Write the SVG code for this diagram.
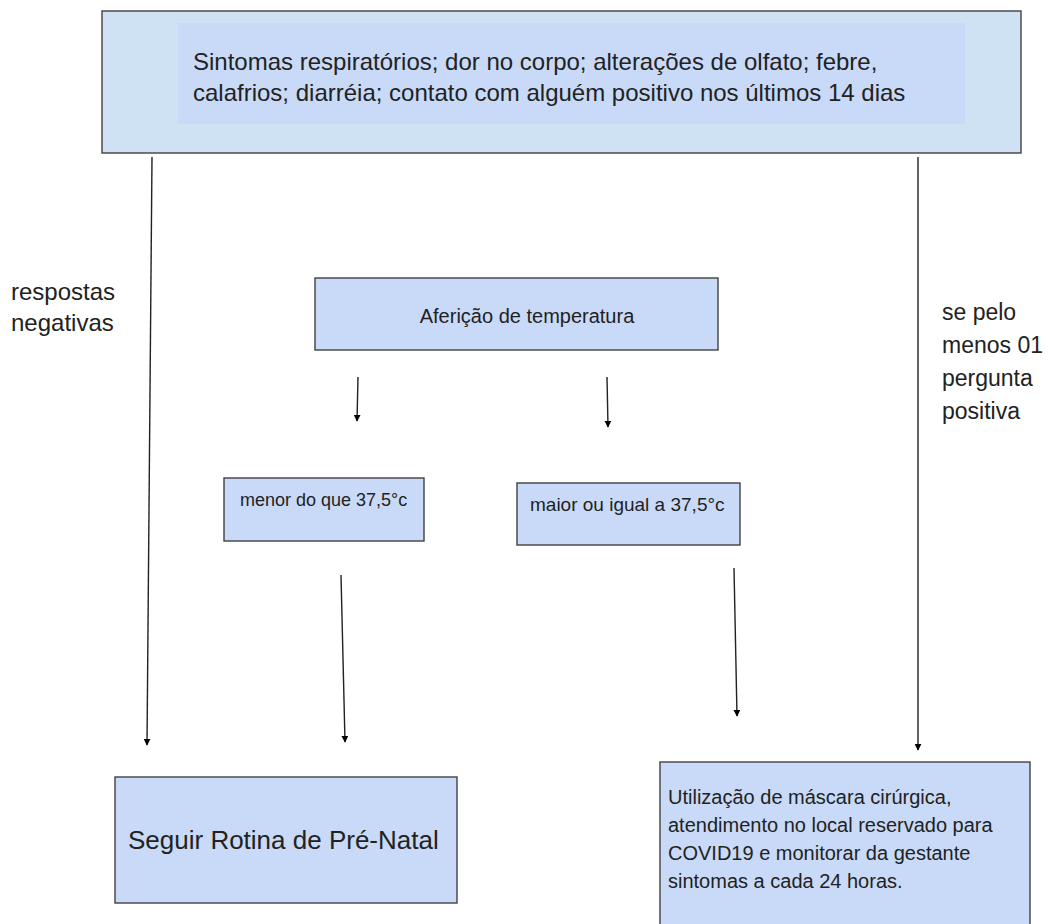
<svg xmlns="http://www.w3.org/2000/svg" width="1048" height="924" viewBox="0 0 1048 924">
<defs>
<marker id="ah" viewBox="0 0 10 10" refX="9" refY="5" markerWidth="7" markerHeight="7" markerUnits="userSpaceOnUse" orient="auto">
<path d="M0,0 L10,5 L0,10 Z" fill="#000"/>
</marker>
<style>
.box{fill:#c9daf8;stroke:#404040;stroke-width:1.4}
.outer{fill:#cfe2f3;stroke:#404040;stroke-width:1.4}
.t{font-family:"Liberation Sans",Arial,sans-serif;fill:#222}
.conn{stroke:#222;stroke-width:1.4;fill:none;marker-end:url(#ah)}
</style>
</defs>
<rect width="1048" height="924" fill="#fff"/>
<g id="top">
<rect class="outer" x="102" y="11" width="919" height="142"/>
<rect x="178" y="23" width="787" height="101" fill="#c9daf8"/>
<text class="t" font-size="24"><tspan x="193" y="70">Sintomas respiratórios; dor no corpo; alterações de olfato; febre,</tspan><tspan x="193" y="101">calafrios; diarréia; contato com alguém positivo nos últimos 14 dias</tspan></text>
</g>
<g id="label-neg">
<text class="t" font-size="24"><tspan x="11" y="300">respostas</tspan><tspan x="11" y="331">negativas</tspan></text>
</g>
<g id="label-pos">
<text class="t" font-size="23"><tspan x="942" y="320">se pelo</tspan><tspan x="942" y="353">menos 01</tspan><tspan x="942" y="386">pergunta</tspan><tspan x="942" y="419">positiva</tspan></text>
</g>
<g id="afericao">
<rect class="box" x="315" y="278" width="403" height="72"/>
<text class="t" font-size="20" x="527" y="323" text-anchor="middle">Aferição de temperatura</text>
</g>
<g id="menor">
<rect class="box" x="224" y="478" width="200" height="63"/>
<text class="t" font-size="18" x="240" y="506">menor do que 37,5°c</text>
</g>
<g id="maior">
<rect class="box" x="517" y="483" width="223" height="62"/>
<text class="t" font-size="19" x="530" y="511">maior ou igual a 37,5°c</text>
</g>
<g id="seguir">
<rect class="box" x="115" y="777" width="342" height="126"/>
<text class="t" font-size="26" x="128" y="849">Seguir Rotina de Pré-Natal</text>
</g>
<g id="utilizacao">
<rect class="box" x="660" y="762" width="370" height="170"/>
<text class="t" font-size="20"><tspan x="668" y="804">Utilização de máscara cirúrgica,</tspan><tspan x="668" y="832">atendimento no local reservado para</tspan><tspan x="668" y="860">COVID19 e monitorar da gestante</tspan><tspan x="668" y="888">sintomas a cada 24 horas.</tspan></text>
</g>
<g id="connectors">
<line class="conn" x1="152" y1="157" x2="147" y2="745"/>
<line class="conn" x1="918" y1="157" x2="918" y2="750"/>
<line class="conn" x1="358" y1="377" x2="357" y2="421"/>
<line class="conn" x1="607" y1="377" x2="608" y2="427"/>
<line class="conn" x1="341" y1="575" x2="345" y2="742"/>
<line class="conn" x1="734" y1="568" x2="737" y2="716"/>
</g>
</svg>
